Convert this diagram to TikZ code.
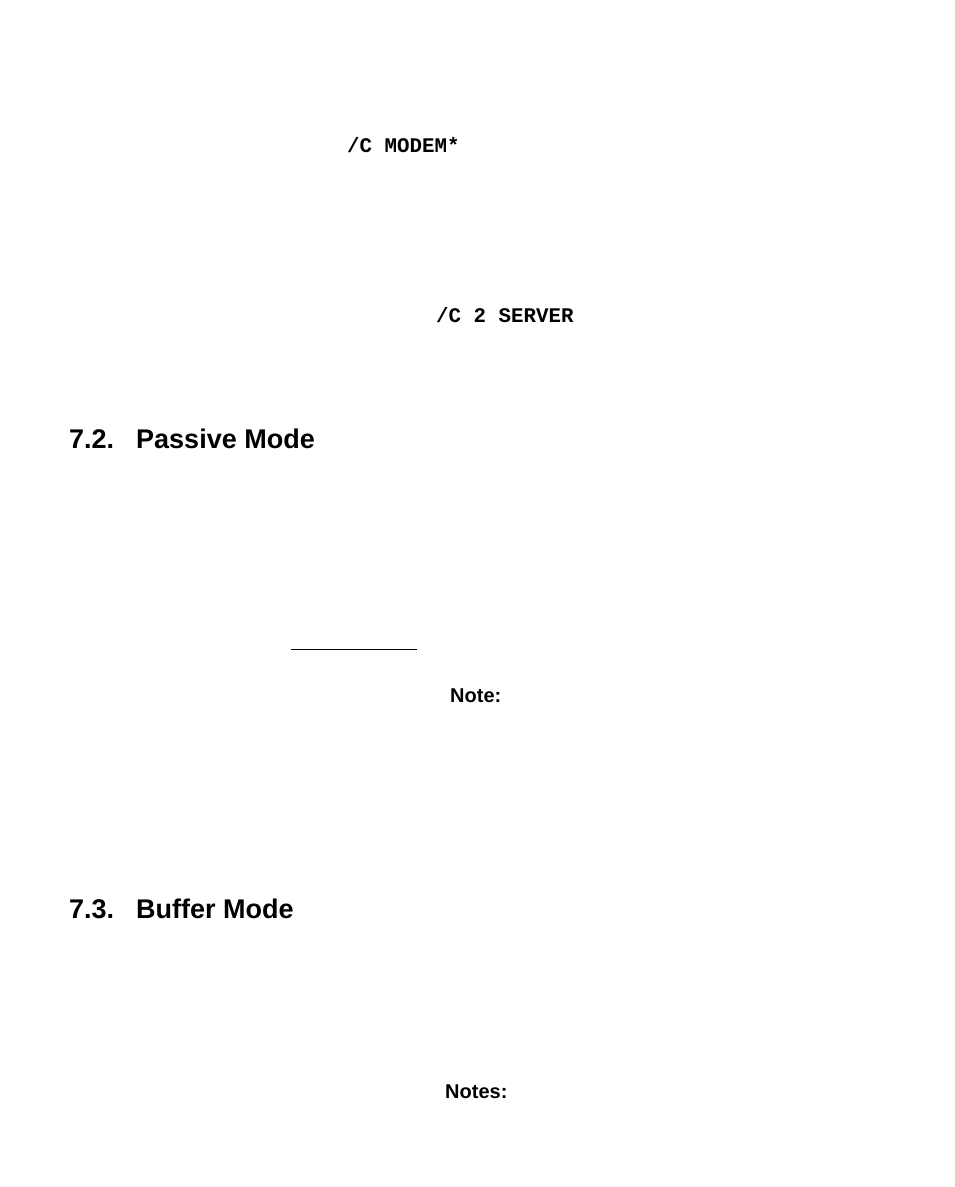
\documentclass[tikz,border=0pt]{standalone}
\usepackage{fontspec}
\setmainfont{Liberation Sans}
\newfontfamily\cour{Liberation Mono}
\begin{document}
\begin{tikzpicture}[x=1pt,y=1pt,
  code/.style={anchor=west,inner sep=0pt,font=\cour\bfseries\fontsize{20.8}{24}\selectfont},
  head/.style={anchor=west,inner sep=0pt,font=\bfseries\fontsize{27}{32}\selectfont},
  note/.style={anchor=west,inner sep=0pt,font=\bfseries\fontsize{20}{24}\selectfont}]
\useasboundingbox (0,0) rectangle (954,1187);
\node[code] (c1) at (347,1187-145) {/C MODEM*};
\node[code] (c2) at (436,1187-315) {/C 2 SERVER};
\node[head] (h1) at (69,1187-439) {7.2.\hspace{22pt}Passive Mode};
\draw[line width=0.7pt] (291,1187-649) coordinate (l1) -- (417,1187-649) coordinate (l2);
\node[note] (n1) at (450,1187-696) {Note:};
\node[head] (h2) at (69,1187-909) {7.3.\hspace{22pt}Buffer Mode};
\node[note] (n2) at (445,1187-1092) {Notes:};
\end{tikzpicture}
\end{document}
